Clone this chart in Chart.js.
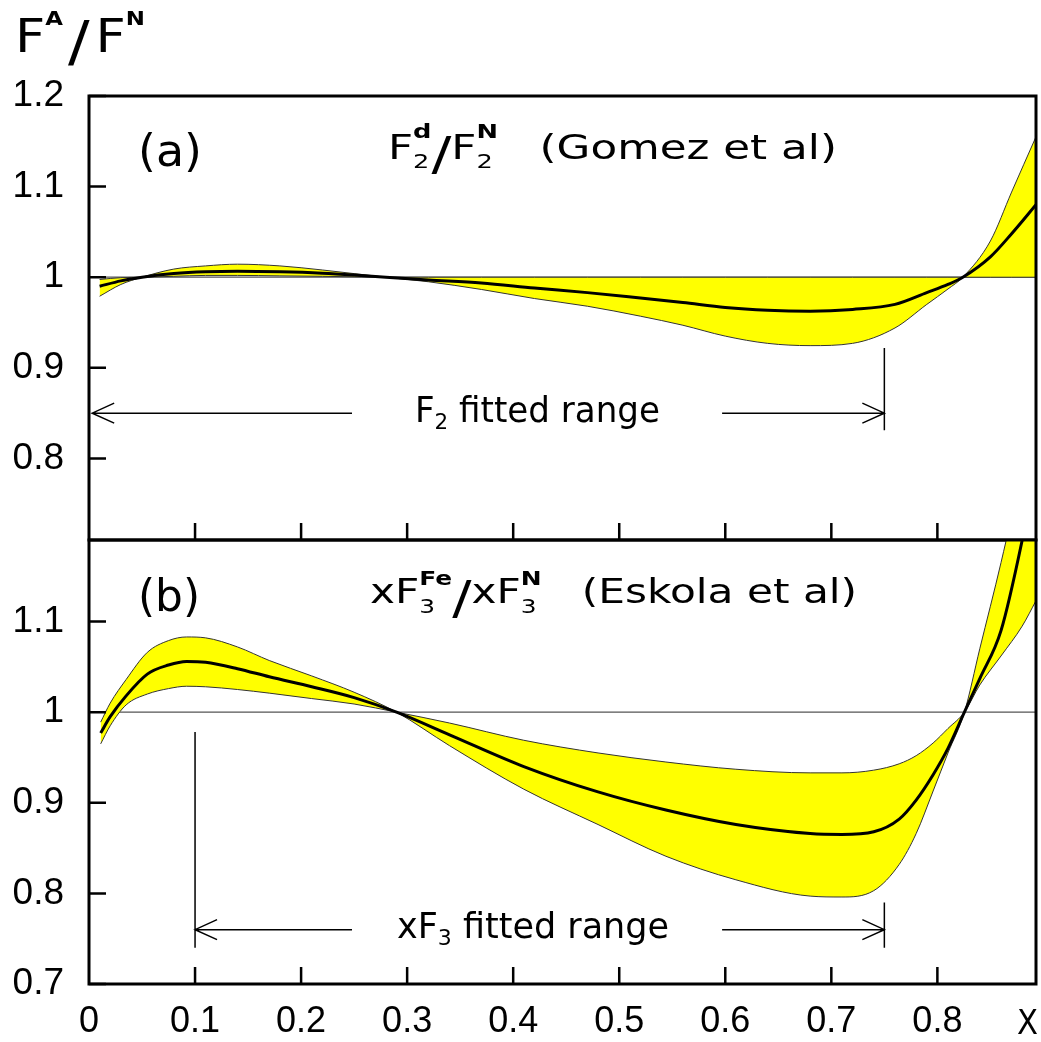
<!DOCTYPE html>
<html>
<head>
<meta charset="utf-8">
<script src="https://cdn.jsdelivr.net/npm/chart.js@4.4.1/dist/chart.umd.min.js"></script>
<style>
  html, body { margin: 0; padding: 0; background: #fff; }
  #page { position: relative; width: 1041px; height: 1042px; overflow: hidden; }
  #page canvas { position: absolute; left: 0; }
  #chartA { top: 0; }
  #chartB { top: 520px; }
</style>
</head>
<body>
<div id="page">
  <canvas id="chartA" width="1041" height="560"></canvas>
  <canvas id="chartB" width="1041" height="522"></canvas>
</div>
<script>
// ─── Panel (a): F2^d / F2^N (Gomez et al) ───
// two band edges cross each other, central curve between them
const xA       = [0.01, 0.03, 0.05, 0.08, 0.11, 0.14, 0.18, 0.22, 0.25, 0.28, 0.32, 0.37, 0.42, 0.47, 0.52, 0.56, 0.60, 0.64, 0.68, 0.72, 0.76, 0.79, 0.81, 0.824, 0.85, 0.87, 0.893];
const centralA = [0.990, 0.996, 1.000, 1.004, 1.006, 1.0066, 1.006, 1.0045, 1.0025, 1.000, 0.997, 0.9935, 0.988, 0.983, 0.977, 0.972, 0.9665, 0.9635, 0.9625, 0.9645, 0.970, 0.983, 0.992, 1.000, 1.0225, 1.048, 1.080];
const edge1A   = [0.9975, 0.9995, 1.000, 1.001, 1.002, 1.002, 1.0015, 1.001, 1.0005, 1.000, 1.000, 1.000, 1.000, 1.000, 1.000, 1.000, 1.000, 1.000, 1.000, 1.000, 1.000, 1.000, 1.000, 1.000, 1.000, 1.000, 1.000];
const edge2A   = [0.979, 0.992, 1.000, 1.009, 1.0125, 1.0144, 1.0125, 1.008, 1.004, 1.000, 0.995, 0.9865, 0.9765, 0.968, 0.957, 0.947, 0.935, 0.927, 0.9245, 0.927, 0.944, 0.970, 0.987, 1.000, 1.040, 1.094, 1.155];

// ─── Panel (b): xF3^Fe / xF3^N (Eskola et al) ───
const xB       = [0.011, 0.02, 0.035, 0.055, 0.075, 0.092, 0.11, 0.14, 0.17, 0.21, 0.25, 0.29, 0.34, 0.41, 0.48, 0.544, 0.61, 0.68, 0.71, 0.74, 0.764, 0.78, 0.796, 0.81, 0.8255, 0.84, 0.86, 0.88, 0.893];
const centralB = [0.977, 0.995, 1.018, 1.042, 1.052, 1.056, 1.055, 1.048, 1.039, 1.028, 1.016, 1.000, 0.975, 0.940, 0.912, 0.892, 0.876, 0.866, 0.865, 0.868, 0.882, 0.903, 0.931, 0.960, 1.000, 1.037, 1.090, 1.190, 1.270];
const edge1B   = [0.989, 1.010, 1.036, 1.066, 1.079, 1.083, 1.082, 1.072, 1.057, 1.040, 1.022, 1.000, 0.963, 0.915, 0.876, 0.841, 0.815, 0.797, 0.796, 0.803, 0.832, 0.866, 0.913, 0.955, 1.000, 1.070, 1.165, 1.270, 1.350];
const edge2B   = [0.965, 0.985, 1.008, 1.020, 1.026, 1.0286, 1.028, 1.025, 1.021, 1.015, 1.009, 1.000, 0.988, 0.969, 0.955, 0.945, 0.937, 0.933, 0.933, 0.936, 0.943, 0.952, 0.966, 0.982, 1.000, 1.030, 1.062, 1.095, 1.123];

// ─── Reference line at 1 ───
const refX = [0, 0.893];
const refY = [1, 1];

// ─── Axes ───
const xRange = [0, 0.893];
const xTicks = [0, 0.1, 0.2, 0.3, 0.4, 0.5, 0.6, 0.7, 0.8];
const xTickLabels = ['0', '0.1', '0.2', '0.3', '0.4', '0.5', '0.6', '0.7', '0.8'];
const yRangeA = [0.71, 1.2];
const yTicksA = [0.8, 0.9, 1, 1.1, 1.2];
const yLabelsA = ['0.8', '0.9', '1', '1.1', '1.2'];
const yRangeB = [0.7, 1.19];
const yTicksB = [0.7, 0.8, 0.9, 1, 1.1];
const yLabelsB = ['0.7', '0.8', '0.9', '1', '1.1'];

// ─── Fitted-range annotations (in data units) ───
const rangeA = { y: 0.85, x0: 0.003, x1: 0.75, gap0: 0.248, gap1: 0.597, marks: [[0.75, 0.831, 0.922]] };
const rangeB = { y: 0.76, x0: 0.1, x1: 0.75, gap0: 0.248, gap1: 0.597, marks: [[0.1, 0.74, 0.978], [0.75, 0.74, 0.79]] };

const YELLOW = '#ffff00';
const pts = (xs, ys) => xs.map((x, i) => ({ x, y: ys[i] }));

function datasets(xs, central, e1, e2) {
    return [
        { data: pts(xs, central), borderColor: '#000', borderWidth: 3, fill: false },
        { data: pts(xs, e1), borderColor: '#333', borderWidth: 1, fill: false },
        { data: pts(xs, e2), borderColor: '#333', borderWidth: 1, fill: '-1', backgroundColor: YELLOW },
        { data: pts(refX, refY), borderColor: '#555', borderWidth: 1.2, fill: false, cubicInterpolationMode: 'default', tension: 0 },
    ];
}

// ─── Rich text helper (sub/superscripts, stretched to a width) ───
function drawRich(ctx, parts, x, y, width) {
    const font = (size, bold) => `${bold ? 'bold ' : ''}${size}px 'DejaVu Sans'`;
    const ws = parts.map(p => {
        if (p.t !== undefined) { ctx.font = font(p.size, p.bold); return ctx.measureText(p.t).width; }
        ctx.font = font(p.size, true);
        const a = p.sup ? ctx.measureText(p.sup).width : 0;
        ctx.font = font(p.size, false);
        const b = p.sub ? ctx.measureText(p.sub).width : 0;
        return Math.max(a, b);
    });
    const total = ws.reduce((s, w) => s + w, 0);
    ctx.save();
    ctx.translate(x, y);
    ctx.scale(width ? width / total : 1, 1);
    ctx.fillStyle = '#000';
    ctx.textAlign = 'left';
    ctx.textBaseline = 'alphabetic';
    let cx = 0;
    parts.forEach((p, i) => {
        if (p.t !== undefined) {
            ctx.font = font(p.size, p.bold);
            ctx.fillText(p.t, cx, p.dy || 0);
        } else {
            if (p.sup) { ctx.font = font(p.size, true); ctx.fillText(p.sup, cx, p.supDy); }
            if (p.sub) { ctx.font = font(p.size, false); ctx.fillText(p.sub, cx, p.subDy); }
        }
        cx += ws[i];
    });
    ctx.restore();
}

function arrowHead(ctx, px, py, dir) {
    ctx.moveTo(px - dir * 22, py - 10);
    ctx.lineTo(px, py);
    ctx.lineTo(px - dir * 22, py + 10);
}

// ─── Frame, inner ticks, annotations ───
const framePlugin = {
    id: 'frame',
    afterDraw(chart, args, opts) {
        const { ctx, chartArea: a, scales: { x, y } } = chart;
        ctx.save();
        ctx.strokeStyle = '#000';
        ctx.lineCap = 'butt';

        // fitted range arrows
        const r = opts.range;
        const ay = y.getPixelForValue(r.y);
        ctx.lineWidth = 1.5;
        ctx.beginPath();
        ctx.moveTo(x.getPixelForValue(r.x0), ay);
        ctx.lineTo(x.getPixelForValue(r.gap0), ay);
        ctx.moveTo(x.getPixelForValue(r.gap1), ay);
        ctx.lineTo(x.getPixelForValue(r.x1), ay);
        arrowHead(ctx, x.getPixelForValue(r.x0), ay, -1);
        arrowHead(ctx, x.getPixelForValue(r.x1), ay, 1);
        r.marks.forEach(([mx, m0, m1]) => {
            ctx.moveTo(x.getPixelForValue(mx), y.getPixelForValue(m0));
            ctx.lineTo(x.getPixelForValue(mx), y.getPixelForValue(m1));
        });
        ctx.stroke();

        // frame
        ctx.lineWidth = 3;
        ctx.strokeRect(a.left, a.top, a.right - a.left, a.bottom - a.top);

        // inward ticks
        ctx.lineWidth = 2.5;
        ctx.beginPath();
        opts.yTicks.forEach(v => {
            const py = y.getPixelForValue(v);
            ctx.moveTo(a.left, py);
            ctx.lineTo(a.left + 17, py);
        });
        xTicks.forEach(v => {
            if (v <= x.min) return;
            const px = x.getPixelForValue(v);
            ctx.moveTo(px, a.bottom);
            ctx.lineTo(px, a.bottom - 17);
        });
        ctx.stroke();

        // texts (page coordinates shifted by the canvas offset)
        const off = opts.offsetY;
        opts.texts.forEach(t => drawRich(ctx, t.parts, t.x, t.y - off, t.w));
        ctx.restore();
    }
};

function makeChart(id, xs, central, e1, e2, yRange, yTicks, yLabels, isBottom, range, texts) {
    return new Chart(document.getElementById(id), {
        type: 'line',
        data: { datasets: datasets(xs, central, e1, e2) },
        plugins: [framePlugin],
        options: {
            responsive: false,
            animation: false,
            events: [],
            layout: { padding: isBottom ? { top: 20, right: 5, bottom: 0, left: 0 } : { top: 96, right: 5, bottom: 20, left: 0 } },
            elements: { point: { radius: 0 }, line: { cubicInterpolationMode: 'monotone' } },
            plugins: {
                legend: { display: false },
                tooltip: { enabled: false },
                frame: { range, yTicks, texts, offsetY: isBottom ? 520 : 0 },
            },
            scales: {
                x: {
                    type: 'linear',
                    display: isBottom,
                    min: xRange[0],
                    max: xRange[1],
                    grid: { display: false, drawTicks: false },
                    border: { display: false },
                    afterBuildTicks: s => { s.ticks = xTicks.map(v => ({ value: v })); },
                    afterFit: s => {
                        if (isBottom) s.height = 58;
                        s.paddingLeft = 0;
                        s.paddingRight = 0;
                    },
                    ticks: {
                        color: '#000',
                        font: { family: "'Liberation Sans', Arial, sans-serif", size: 36 },
                        padding: 16,
                        maxRotation: 0,
                        autoSkip: false,
                        callback: (v, i) => xTickLabels[i],
                    },
                },
                y: {
                    type: 'linear',
                    min: yRange[0],
                    max: yRange[1],
                    grid: { display: false, drawTicks: false },
                    border: { display: false },
                    afterBuildTicks: s => { s.ticks = yTicks.map(v => ({ value: v })); },
                    afterFit: s => { s.width = 89; s.paddingTop = 0; s.paddingBottom = 0; },
                    ticks: {
                        color: '#000',
                        font: { family: "'Liberation Sans', Arial, sans-serif", size: 37 },
                        padding: 25,
                        autoSkip: false,
                        callback: (v, i) => yLabels[i],
                    },
                },
            },
        },
    });
}

// ─── Text pieces ───
const textsA = [
    { x: 15, y: 52, w: 130, parts: [
        { t: 'F', size: 46 }, { sup: 'A', size: 20, supDy: -27 }, { t: ' ', size: 14 },
        { t: '/', size: 56, dy: 8 }, { t: ' ', size: 16 },
        { t: 'F', size: 46 }, { sup: 'N', size: 20, supDy: -27 } ] },
    { x: 138, y: 166, w: 64, parts: [{ t: '(a)', size: 44 }] },
    { x: 388, y: 159, w: 449, parts: [
        { t: 'F', size: 34 }, { sup: 'd', sub: '2', size: 20, supDy: -21, subDy: 9 },
        { t: '/', size: 46, dy: 11 },
        { t: 'F', size: 34 }, { sup: 'N', sub: '2', size: 20, supDy: -21, subDy: 9 },
        { t: '   ', size: 34 }, { t: '(Gomez et al)', size: 34 } ] },
    { x: 415, y: 422, w: 245, parts: [
        { t: 'F', size: 35 }, { sub: '2', size: 22, subDy: 7 }, { t: ' fitted range', size: 35 } ] },
];
const textsB = [
    { x: 138, y: 611, w: 62, parts: [{ t: '(b)', size: 44 }] },
    { x: 370, y: 603, w: 487, parts: [
        { t: 'xF', size: 34 }, { sup: 'Fe', sub: '3', size: 20, supDy: -18, subDy: 10 },
        { t: '/', size: 46, dy: 11 },
        { t: 'xF', size: 34 }, { sup: 'N', sub: '3', size: 20, supDy: -18, subDy: 10 },
        { t: '   ', size: 34 }, { t: '(Eskola et al)', size: 34 } ] },
    { x: 397, y: 938, w: 272, parts: [
        { t: 'xF', size: 35 }, { sub: '3', size: 22, subDy: 7 }, { t: ' fitted range', size: 35 } ] },
    { x: 1017, y: 1034, w: 21, parts: [{ t: 'X', size: 34 }] },
];

makeChart('chartA', xA, centralA, edge1A, edge2A, yRangeA, yTicksA, yLabelsA, false, rangeA, textsA);
makeChart('chartB', xB, centralB, edge1B, edge2B, yRangeB, yTicksB, yLabelsB, true, rangeB, textsB);
</script>
</body>
</html>
